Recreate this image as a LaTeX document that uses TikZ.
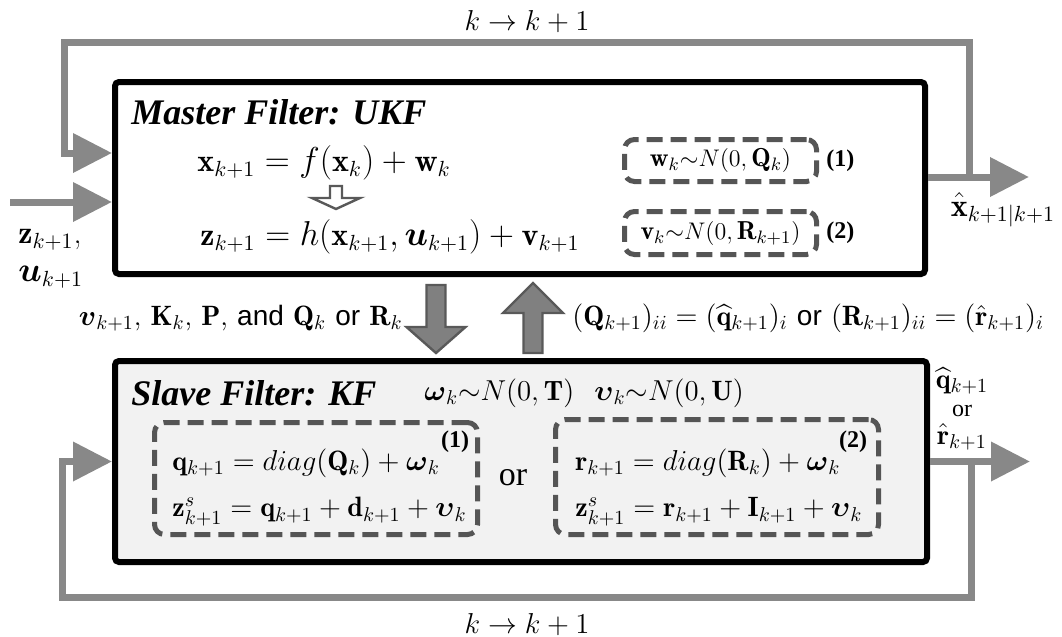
\documentclass[tikz,border=0pt]{standalone}
\usepackage{amsmath}
\usepackage{fontspec}
\newfontfamily\timesfont{Liberation Serif}
\newfontfamily\arialfont{Liberation Sans}
\usetikzlibrary{arrows.meta, calc, positioning}
\definecolor{loopgray}{RGB}{136,136,136}
\definecolor{dashgray}{RGB}{85,85,85}
\definecolor{fatfill}{RGB}{128,128,128}
\definecolor{fatedge}{RGB}{89,89,89}
\definecolor{slavefill}{RGB}{242,242,242}
\tikzset{
        filter/.style = {draw, line width=3pt, rounded corners=2pt,
            inner sep=0pt},
        noise/.style = {draw=dashgray, line width=2.5pt,
            dash pattern=on 8pt off 4pt, rounded corners=5pt,
            font=\fontsize{13}{15}\selectfont},
        title/.style = {font=\fontsize{18}{20}\timesfont\bfseries\itshape,
            anchor=west, inner sep=0pt},
        eq/.style = {font=\fontsize{14}{16}\selectfont, inner sep=0pt},
        bigeq/.style = {font=\fontsize{16}{18}\selectfont, inner sep=0pt},
        tag/.style = {font=\fontsize{12}{14}\timesfont\bfseries, inner sep=0pt},
        loop/.style = {draw=loopgray, line width=3.5pt},
        arrow/.style = {loop, -{Triangle[width=19pt,length=19.5pt]}},
        fat/.style = {draw=fatedge, fill=fatfill, line width=1.2pt},
}

\begin{document}
\begin{tikzpicture}[x=0.5pt, y=-0.5pt]
\useasboundingbox (0,0) rectangle (1062,637);
% the two filters
\node [filter, minimum width=405pt, minimum height=96pt] (master) at (520,178) {};
\node [filter, fill=slavefill, minimum width=406pt, minimum height=100.5pt] (slave) at (521,461.5) {};
% master filter
\node [title] (mtitle) at (131,112) {Master Filter: UKF};
\node [bigeq, anchor=west] (fx) at (197,163) {$\mathbf{x}_{k+1} = f(\mathbf{x}_k) + \mathbf{w}_k$};
\draw [draw=fatedge, line width=1.2pt, fill=white] (330,186) -- (342,186) -- (342,198) -- (360,198)
    -- (336,209) -- (312,198) -- (330,198) -- cycle;
\node [bigeq, anchor=west] (hx) at (200,237) {$\mathbf{z}_{k+1} = h(\mathbf{x}_{k+1},\boldsymbol{u}_{k+1}) + \mathbf{v}_{k+1}$};
\node [noise, minimum width=96pt, minimum height=21pt] (wbox) at (720.5,160.5) {$\mathbf{w}_k{\sim}N(0,\mathbf{Q}_k)$};
\node [noise, minimum width=96pt, minimum height=21.5pt] (vbox) at (720.5,233) {$\mathbf{v}_k{\sim}N(0,\mathbf{R}_{k+1})$};
\node [tag, right=3.5pt of wbox] (tag1) {(1)};
\node [tag, right=3.5pt of vbox] (tag2) {(2)};
% slave filter
\node [title] (stitle) at (131,393) {Slave Filter: KF};
\node [eq, anchor=west] (omega) at (424,393) {$\boldsymbol{\omega}_k{\sim}N(0,\mathbf{T})$};
\node [eq, anchor=west] (upsilon) at (594,393) {$\boldsymbol{\upsilon}_k{\sim}N(0,\mathbf{U})$};
\node [noise, minimum width=161.5pt, minimum height=56pt] (qbox) at (316,478.5) {};
\node [noise, minimum width=161.5pt, minimum height=57.5pt] (rbox) at (717,477) {};
\node [eq, anchor=west] (qeq) at (172,463) {$\mathbf{q}_{k+1} = diag(\mathbf{Q}_k) + \boldsymbol{\omega}_k$};
\node [eq, anchor=west] (qz) at (172,512) {$\mathbf{z}^s_{k+1} = \mathbf{q}_{k+1} + \mathbf{d}_{k+1} + \boldsymbol{\upsilon}_k$};
\node [eq, anchor=west] (req) at (575,463) {$\mathbf{r}_{k+1} = diag(\mathbf{R}_k) + \boldsymbol{\omega}_k$};
\node [eq, anchor=west] (rz) at (575,512) {$\mathbf{z}^s_{k+1} = \mathbf{r}_{k+1} + \mathbf{I}_{k+1} + \boldsymbol{\upsilon}_k$};
\node [tag] (tag3) at (455,442) {(1)};
\node [tag] (tag4) at (853,442) {(2)};
\node [font=\fontsize{17}{18}\timesfont, inner sep=0pt] (or) at (513,478) {or};
% exchange between the filters
\draw [fat] (426.5,285) -- (445.5,285) -- (445.5,327) -- (465.5,327) -- (436,353)
    -- (406.5,327) -- (426.5,327) -- cycle;
\draw [fat] (523.5,353) -- (542.5,353) -- (542.5,313) -- (563,313) -- (533,283)
    -- (503,313) -- (523.5,313) -- cycle;
\node [eq, anchor=east] (down) at (403,318) {$\boldsymbol{v}_{k+1}$, $\mathbf{K}_k$, $\mathbf{P}$, {\arialfont and} $\mathbf{Q}_k$ {\arialfont or} $\mathbf{R}_k$};
\node [eq, anchor=west] (up) at (572,318) {$(\mathbf{Q}_{k+1})_{ii} = (\widehat{\mathbf{q}}_{k+1})_i$ {\arialfont or} $(\mathbf{R}_{k+1})_{ii} = (\hat{\mathbf{r}}_{k+1})_i$};
% inputs, outputs and loops
\coordinate (zin) at (10,202);
\coordinate (fb) at (0,153);
\coordinate (xfork) at (969,177);
\coordinate (xout) at (1029,177);
\coordinate (toprail) at (64,42);
\coordinate (qfork) at (971,461.5);
\coordinate (qout) at (1030,461.5);
\coordinate (botrail) at (62,597);
\draw [arrow] (zin) -- (master.west |- zin);
\draw [arrow] (master.east |- xout) -- (xout);
\draw [arrow] (xfork) |- (toprail) |- (master.west |- fb);
\draw [arrow] (slave.east) -- (qout);
\draw [arrow] (qfork) |- (botrail) |- (slave.west);
\node [bigeq, anchor=west] (zlbl) at (18,240) {$\mathbf{z}_{k+1}$,};
\node [bigeq, anchor=west] (ulbl) at (18,277) {$\boldsymbol{u}_{k+1}$};
\node [bigeq] (xhat) at (1003,210) {$\hat{\mathbf{x}}_{k+1|k+1}$};
\node [eq] (qhat) at (962,381) {$\widehat{\mathbf{q}}_{k+1}$};
\node [font=\fontsize{12}{12}\timesfont, inner sep=0pt] (qor) at (962,411) {or};
\node [eq] (rhat) at (962,437) {$\hat{\mathbf{r}}_{k+1}$};
\node [eq] (topk) at (527,22) {$k \rightarrow k+1$};
\node [eq] (botk) at (527,625) {$k \rightarrow k+1$};
\end{tikzpicture}
\end{document}
